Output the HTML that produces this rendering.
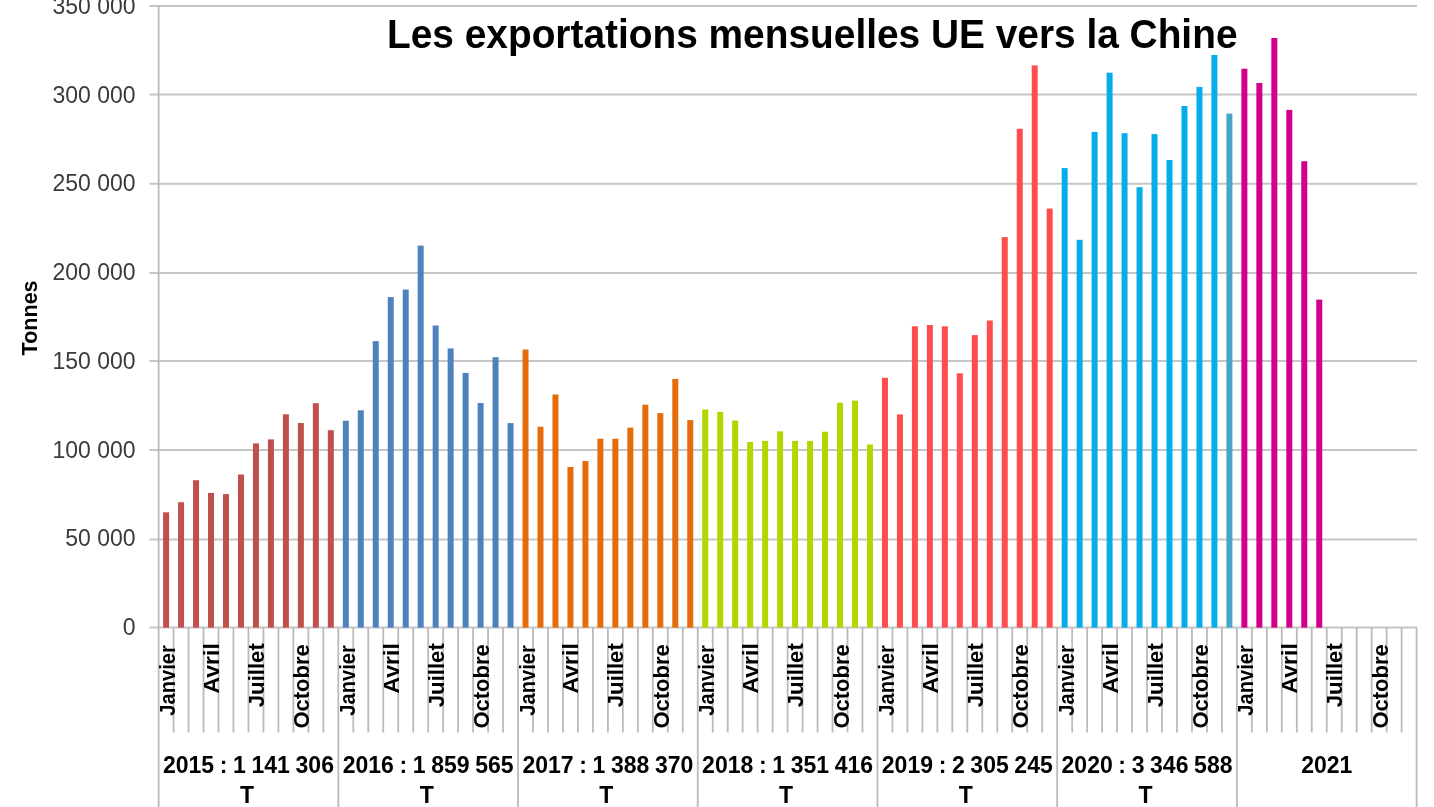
<!DOCTYPE html>
<html><head><meta charset="utf-8"><style>
html,body{margin:0;padding:0;background:#fff;width:1434px;height:807px;overflow:hidden;position:relative;font-family:"Liberation Sans",sans-serif;}
</style></head><body>
<svg width="1434" height="807" viewBox="0 0 1434 807" style="position:absolute;left:0;top:0;filter:blur(0.4px)">
<line x1="149.5" y1="627.60" x2="1417" y2="627.60" stroke="#C6C6C6" stroke-width="2"/>
<line x1="149.5" y1="539.60" x2="1417" y2="539.60" stroke="#C6C6C6" stroke-width="2"/>
<line x1="149.5" y1="450.00" x2="1417" y2="450.00" stroke="#C6C6C6" stroke-width="2"/>
<line x1="149.5" y1="361.00" x2="1417" y2="361.00" stroke="#C6C6C6" stroke-width="2"/>
<line x1="149.5" y1="273.00" x2="1417" y2="273.00" stroke="#C6C6C6" stroke-width="2"/>
<line x1="149.5" y1="183.70" x2="1417" y2="183.70" stroke="#C6C6C6" stroke-width="2"/>
<line x1="149.5" y1="94.50" x2="1417" y2="94.50" stroke="#C6C6C6" stroke-width="2"/>
<line x1="149.5" y1="6.00" x2="1417" y2="6.00" stroke="#C6C6C6" stroke-width="2"/>
<line x1="158.6" y1="5" x2="158.6" y2="807" stroke="#BABABA" stroke-width="1.8"/>
<line x1="173.58" y1="627.6" x2="173.58" y2="732.5" stroke="#BABABA" stroke-width="1.8"/>
<line x1="188.55" y1="627.6" x2="188.55" y2="732.5" stroke="#BABABA" stroke-width="1.8"/>
<line x1="203.53" y1="627.6" x2="203.53" y2="732.5" stroke="#BABABA" stroke-width="1.8"/>
<line x1="218.50" y1="627.6" x2="218.50" y2="732.5" stroke="#BABABA" stroke-width="1.8"/>
<line x1="233.48" y1="627.6" x2="233.48" y2="732.5" stroke="#BABABA" stroke-width="1.8"/>
<line x1="248.46" y1="627.6" x2="248.46" y2="732.5" stroke="#BABABA" stroke-width="1.8"/>
<line x1="263.43" y1="627.6" x2="263.43" y2="732.5" stroke="#BABABA" stroke-width="1.8"/>
<line x1="278.41" y1="627.6" x2="278.41" y2="732.5" stroke="#BABABA" stroke-width="1.8"/>
<line x1="293.39" y1="627.6" x2="293.39" y2="732.5" stroke="#BABABA" stroke-width="1.8"/>
<line x1="308.36" y1="627.6" x2="308.36" y2="732.5" stroke="#BABABA" stroke-width="1.8"/>
<line x1="323.34" y1="627.6" x2="323.34" y2="732.5" stroke="#BABABA" stroke-width="1.8"/>
<line x1="338.31" y1="627.6" x2="338.31" y2="807" stroke="#BABABA" stroke-width="1.8"/>
<line x1="353.29" y1="627.6" x2="353.29" y2="732.5" stroke="#BABABA" stroke-width="1.8"/>
<line x1="368.27" y1="627.6" x2="368.27" y2="732.5" stroke="#BABABA" stroke-width="1.8"/>
<line x1="383.24" y1="627.6" x2="383.24" y2="732.5" stroke="#BABABA" stroke-width="1.8"/>
<line x1="398.22" y1="627.6" x2="398.22" y2="732.5" stroke="#BABABA" stroke-width="1.8"/>
<line x1="413.20" y1="627.6" x2="413.20" y2="732.5" stroke="#BABABA" stroke-width="1.8"/>
<line x1="428.17" y1="627.6" x2="428.17" y2="732.5" stroke="#BABABA" stroke-width="1.8"/>
<line x1="443.15" y1="627.6" x2="443.15" y2="732.5" stroke="#BABABA" stroke-width="1.8"/>
<line x1="458.12" y1="627.6" x2="458.12" y2="732.5" stroke="#BABABA" stroke-width="1.8"/>
<line x1="473.10" y1="627.6" x2="473.10" y2="732.5" stroke="#BABABA" stroke-width="1.8"/>
<line x1="488.08" y1="627.6" x2="488.08" y2="732.5" stroke="#BABABA" stroke-width="1.8"/>
<line x1="503.05" y1="627.6" x2="503.05" y2="732.5" stroke="#BABABA" stroke-width="1.8"/>
<line x1="518.03" y1="627.6" x2="518.03" y2="807" stroke="#BABABA" stroke-width="1.8"/>
<line x1="533.00" y1="627.6" x2="533.00" y2="732.5" stroke="#BABABA" stroke-width="1.8"/>
<line x1="547.98" y1="627.6" x2="547.98" y2="732.5" stroke="#BABABA" stroke-width="1.8"/>
<line x1="562.96" y1="627.6" x2="562.96" y2="732.5" stroke="#BABABA" stroke-width="1.8"/>
<line x1="577.93" y1="627.6" x2="577.93" y2="732.5" stroke="#BABABA" stroke-width="1.8"/>
<line x1="592.91" y1="627.6" x2="592.91" y2="732.5" stroke="#BABABA" stroke-width="1.8"/>
<line x1="607.89" y1="627.6" x2="607.89" y2="732.5" stroke="#BABABA" stroke-width="1.8"/>
<line x1="622.86" y1="627.6" x2="622.86" y2="732.5" stroke="#BABABA" stroke-width="1.8"/>
<line x1="637.84" y1="627.6" x2="637.84" y2="732.5" stroke="#BABABA" stroke-width="1.8"/>
<line x1="652.81" y1="627.6" x2="652.81" y2="732.5" stroke="#BABABA" stroke-width="1.8"/>
<line x1="667.79" y1="627.6" x2="667.79" y2="732.5" stroke="#BABABA" stroke-width="1.8"/>
<line x1="682.77" y1="627.6" x2="682.77" y2="732.5" stroke="#BABABA" stroke-width="1.8"/>
<line x1="697.74" y1="627.6" x2="697.74" y2="807" stroke="#BABABA" stroke-width="1.8"/>
<line x1="712.72" y1="627.6" x2="712.72" y2="732.5" stroke="#BABABA" stroke-width="1.8"/>
<line x1="727.70" y1="627.6" x2="727.70" y2="732.5" stroke="#BABABA" stroke-width="1.8"/>
<line x1="742.67" y1="627.6" x2="742.67" y2="732.5" stroke="#BABABA" stroke-width="1.8"/>
<line x1="757.65" y1="627.6" x2="757.65" y2="732.5" stroke="#BABABA" stroke-width="1.8"/>
<line x1="772.62" y1="627.6" x2="772.62" y2="732.5" stroke="#BABABA" stroke-width="1.8"/>
<line x1="787.60" y1="627.6" x2="787.60" y2="732.5" stroke="#BABABA" stroke-width="1.8"/>
<line x1="802.58" y1="627.6" x2="802.58" y2="732.5" stroke="#BABABA" stroke-width="1.8"/>
<line x1="817.55" y1="627.6" x2="817.55" y2="732.5" stroke="#BABABA" stroke-width="1.8"/>
<line x1="832.53" y1="627.6" x2="832.53" y2="732.5" stroke="#BABABA" stroke-width="1.8"/>
<line x1="847.50" y1="627.6" x2="847.50" y2="732.5" stroke="#BABABA" stroke-width="1.8"/>
<line x1="862.48" y1="627.6" x2="862.48" y2="732.5" stroke="#BABABA" stroke-width="1.8"/>
<line x1="877.46" y1="627.6" x2="877.46" y2="807" stroke="#BABABA" stroke-width="1.8"/>
<line x1="892.43" y1="627.6" x2="892.43" y2="732.5" stroke="#BABABA" stroke-width="1.8"/>
<line x1="907.41" y1="627.6" x2="907.41" y2="732.5" stroke="#BABABA" stroke-width="1.8"/>
<line x1="922.39" y1="627.6" x2="922.39" y2="732.5" stroke="#BABABA" stroke-width="1.8"/>
<line x1="937.36" y1="627.6" x2="937.36" y2="732.5" stroke="#BABABA" stroke-width="1.8"/>
<line x1="952.34" y1="627.6" x2="952.34" y2="732.5" stroke="#BABABA" stroke-width="1.8"/>
<line x1="967.31" y1="627.6" x2="967.31" y2="732.5" stroke="#BABABA" stroke-width="1.8"/>
<line x1="982.29" y1="627.6" x2="982.29" y2="732.5" stroke="#BABABA" stroke-width="1.8"/>
<line x1="997.27" y1="627.6" x2="997.27" y2="732.5" stroke="#BABABA" stroke-width="1.8"/>
<line x1="1012.24" y1="627.6" x2="1012.24" y2="732.5" stroke="#BABABA" stroke-width="1.8"/>
<line x1="1027.22" y1="627.6" x2="1027.22" y2="732.5" stroke="#BABABA" stroke-width="1.8"/>
<line x1="1042.20" y1="627.6" x2="1042.20" y2="732.5" stroke="#BABABA" stroke-width="1.8"/>
<line x1="1057.17" y1="627.6" x2="1057.17" y2="807" stroke="#BABABA" stroke-width="1.8"/>
<line x1="1072.15" y1="627.6" x2="1072.15" y2="732.5" stroke="#BABABA" stroke-width="1.8"/>
<line x1="1087.12" y1="627.6" x2="1087.12" y2="732.5" stroke="#BABABA" stroke-width="1.8"/>
<line x1="1102.10" y1="627.6" x2="1102.10" y2="732.5" stroke="#BABABA" stroke-width="1.8"/>
<line x1="1117.08" y1="627.6" x2="1117.08" y2="732.5" stroke="#BABABA" stroke-width="1.8"/>
<line x1="1132.05" y1="627.6" x2="1132.05" y2="732.5" stroke="#BABABA" stroke-width="1.8"/>
<line x1="1147.03" y1="627.6" x2="1147.03" y2="732.5" stroke="#BABABA" stroke-width="1.8"/>
<line x1="1162.00" y1="627.6" x2="1162.00" y2="732.5" stroke="#BABABA" stroke-width="1.8"/>
<line x1="1176.98" y1="627.6" x2="1176.98" y2="732.5" stroke="#BABABA" stroke-width="1.8"/>
<line x1="1191.96" y1="627.6" x2="1191.96" y2="732.5" stroke="#BABABA" stroke-width="1.8"/>
<line x1="1206.93" y1="627.6" x2="1206.93" y2="732.5" stroke="#BABABA" stroke-width="1.8"/>
<line x1="1221.91" y1="627.6" x2="1221.91" y2="732.5" stroke="#BABABA" stroke-width="1.8"/>
<line x1="1236.89" y1="627.6" x2="1236.89" y2="807" stroke="#BABABA" stroke-width="1.8"/>
<line x1="1251.86" y1="627.6" x2="1251.86" y2="732.5" stroke="#BABABA" stroke-width="1.8"/>
<line x1="1266.84" y1="627.6" x2="1266.84" y2="732.5" stroke="#BABABA" stroke-width="1.8"/>
<line x1="1281.81" y1="627.6" x2="1281.81" y2="732.5" stroke="#BABABA" stroke-width="1.8"/>
<line x1="1296.79" y1="627.6" x2="1296.79" y2="732.5" stroke="#BABABA" stroke-width="1.8"/>
<line x1="1311.77" y1="627.6" x2="1311.77" y2="732.5" stroke="#BABABA" stroke-width="1.8"/>
<line x1="1326.74" y1="627.6" x2="1326.74" y2="732.5" stroke="#BABABA" stroke-width="1.8"/>
<line x1="1341.72" y1="627.6" x2="1341.72" y2="732.5" stroke="#BABABA" stroke-width="1.8"/>
<line x1="1356.70" y1="627.6" x2="1356.70" y2="732.5" stroke="#BABABA" stroke-width="1.8"/>
<line x1="1371.67" y1="627.6" x2="1371.67" y2="732.5" stroke="#BABABA" stroke-width="1.8"/>
<line x1="1386.65" y1="627.6" x2="1386.65" y2="732.5" stroke="#BABABA" stroke-width="1.8"/>
<line x1="1401.62" y1="627.6" x2="1401.62" y2="732.5" stroke="#BABABA" stroke-width="1.8"/>
<line x1="1416.60" y1="627.6" x2="1416.60" y2="807" stroke="#BABABA" stroke-width="1.8"/>
<rect x="163.09" y="512.30" width="6.0" height="115.30" fill="#C0504D"/>
<rect x="178.06" y="502.20" width="6.0" height="125.40" fill="#C0504D"/>
<rect x="193.04" y="480.20" width="6.0" height="147.40" fill="#C0504D"/>
<rect x="208.02" y="492.90" width="6.0" height="134.70" fill="#C0504D"/>
<rect x="222.99" y="494.10" width="6.0" height="133.50" fill="#C0504D"/>
<rect x="237.97" y="474.50" width="6.0" height="153.10" fill="#C0504D"/>
<rect x="252.95" y="443.40" width="6.0" height="184.20" fill="#C0504D"/>
<rect x="267.92" y="439.40" width="6.0" height="188.20" fill="#C0504D"/>
<rect x="282.90" y="414.30" width="6.0" height="213.30" fill="#C0504D"/>
<rect x="297.87" y="423.00" width="6.0" height="204.60" fill="#C0504D"/>
<rect x="312.85" y="403.20" width="6.0" height="224.40" fill="#C0504D"/>
<rect x="327.83" y="430.20" width="6.0" height="197.40" fill="#C0504D"/>
<rect x="342.80" y="420.70" width="6.0" height="206.90" fill="#4F81BD"/>
<rect x="357.78" y="410.30" width="6.0" height="217.30" fill="#4F81BD"/>
<rect x="372.75" y="341.10" width="6.0" height="286.50" fill="#4F81BD"/>
<rect x="387.73" y="297.10" width="6.0" height="330.50" fill="#4F81BD"/>
<rect x="402.71" y="289.60" width="6.0" height="338.00" fill="#4F81BD"/>
<rect x="417.68" y="245.60" width="6.0" height="382.00" fill="#4F81BD"/>
<rect x="432.66" y="325.50" width="6.0" height="302.10" fill="#4F81BD"/>
<rect x="447.64" y="348.40" width="6.0" height="279.20" fill="#4F81BD"/>
<rect x="462.61" y="372.90" width="6.0" height="254.70" fill="#4F81BD"/>
<rect x="477.59" y="403.00" width="6.0" height="224.60" fill="#4F81BD"/>
<rect x="492.56" y="357.20" width="6.0" height="270.40" fill="#4F81BD"/>
<rect x="507.54" y="423.10" width="6.0" height="204.50" fill="#4F81BD"/>
<rect x="522.52" y="349.50" width="6.0" height="278.10" fill="#E46C0A"/>
<rect x="537.49" y="426.70" width="6.0" height="200.90" fill="#E46C0A"/>
<rect x="552.47" y="394.50" width="6.0" height="233.10" fill="#E46C0A"/>
<rect x="567.45" y="467.00" width="6.0" height="160.60" fill="#E46C0A"/>
<rect x="582.42" y="461.00" width="6.0" height="166.60" fill="#E46C0A"/>
<rect x="597.40" y="438.70" width="6.0" height="188.90" fill="#E46C0A"/>
<rect x="612.37" y="438.70" width="6.0" height="188.90" fill="#E46C0A"/>
<rect x="627.35" y="427.60" width="6.0" height="200.00" fill="#E46C0A"/>
<rect x="642.33" y="404.70" width="6.0" height="222.90" fill="#E46C0A"/>
<rect x="657.30" y="413.10" width="6.0" height="214.50" fill="#E46C0A"/>
<rect x="672.28" y="378.90" width="6.0" height="248.70" fill="#E46C0A"/>
<rect x="687.25" y="420.10" width="6.0" height="207.50" fill="#E46C0A"/>
<rect x="702.23" y="409.50" width="6.0" height="218.10" fill="#B0D700"/>
<rect x="717.21" y="411.80" width="6.0" height="215.80" fill="#B0D700"/>
<rect x="732.18" y="420.50" width="6.0" height="207.10" fill="#B0D700"/>
<rect x="747.16" y="442.00" width="6.0" height="185.60" fill="#B0D700"/>
<rect x="762.14" y="440.90" width="6.0" height="186.70" fill="#B0D700"/>
<rect x="777.11" y="431.30" width="6.0" height="196.30" fill="#B0D700"/>
<rect x="792.09" y="440.90" width="6.0" height="186.70" fill="#B0D700"/>
<rect x="807.06" y="440.90" width="6.0" height="186.70" fill="#B0D700"/>
<rect x="822.04" y="431.70" width="6.0" height="195.90" fill="#B0D700"/>
<rect x="837.02" y="402.80" width="6.0" height="224.80" fill="#B0D700"/>
<rect x="851.99" y="400.60" width="6.0" height="227.00" fill="#B0D700"/>
<rect x="866.97" y="444.50" width="6.0" height="183.10" fill="#B0D700"/>
<rect x="881.95" y="377.80" width="6.0" height="249.80" fill="#FF4D4F"/>
<rect x="896.92" y="414.40" width="6.0" height="213.20" fill="#FF4D4F"/>
<rect x="911.90" y="326.30" width="6.0" height="301.30" fill="#FF4D4F"/>
<rect x="926.87" y="325.00" width="6.0" height="302.60" fill="#FF4D4F"/>
<rect x="941.85" y="326.30" width="6.0" height="301.30" fill="#FF4D4F"/>
<rect x="956.83" y="373.30" width="6.0" height="254.30" fill="#FF4D4F"/>
<rect x="971.80" y="335.10" width="6.0" height="292.50" fill="#FF4D4F"/>
<rect x="986.78" y="320.50" width="6.0" height="307.10" fill="#FF4D4F"/>
<rect x="1001.75" y="237.10" width="6.0" height="390.50" fill="#FF4D4F"/>
<rect x="1016.73" y="128.80" width="6.0" height="498.80" fill="#FF4D4F"/>
<rect x="1031.71" y="65.40" width="6.0" height="562.20" fill="#FF4D4F"/>
<rect x="1046.68" y="208.60" width="6.0" height="419.00" fill="#FF4D4F"/>
<rect x="1061.66" y="168.10" width="6.0" height="459.50" fill="#05AEEA"/>
<rect x="1076.64" y="239.80" width="6.0" height="387.80" fill="#05AEEA"/>
<rect x="1091.61" y="131.90" width="6.0" height="495.70" fill="#05AEEA"/>
<rect x="1106.59" y="72.70" width="6.0" height="554.90" fill="#05AEEA"/>
<rect x="1121.56" y="133.20" width="6.0" height="494.40" fill="#05AEEA"/>
<rect x="1136.54" y="187.20" width="6.0" height="440.40" fill="#05AEEA"/>
<rect x="1151.52" y="134.10" width="6.0" height="493.50" fill="#05AEEA"/>
<rect x="1166.49" y="160.00" width="6.0" height="467.60" fill="#05AEEA"/>
<rect x="1181.47" y="106.00" width="6.0" height="521.60" fill="#05AEEA"/>
<rect x="1196.45" y="86.90" width="6.0" height="540.70" fill="#05AEEA"/>
<rect x="1211.42" y="55.00" width="6.0" height="572.60" fill="#05AEEA"/>
<rect x="1226.40" y="113.60" width="6.0" height="514.00" fill="#4AA6C8"/>
<rect x="1241.37" y="68.70" width="6.0" height="558.90" fill="#D0008C"/>
<rect x="1256.35" y="83.00" width="6.0" height="544.60" fill="#D0008C"/>
<rect x="1271.33" y="38.00" width="6.0" height="589.60" fill="#D0008C"/>
<rect x="1286.30" y="109.90" width="6.0" height="517.70" fill="#D0008C"/>
<rect x="1301.28" y="161.20" width="6.0" height="466.40" fill="#D0008C"/>
<rect x="1316.25" y="299.60" width="6.0" height="328.00" fill="#D0008C"/>
<text x="135.6" y="635.25" text-anchor="end" font-family="Liberation Sans" font-size="23" fill="#3A3A3A">0</text>
<text x="135.6" y="546.48" text-anchor="end" font-family="Liberation Sans" font-size="23" fill="#3A3A3A">50 000</text>
<text x="135.6" y="457.71" text-anchor="end" font-family="Liberation Sans" font-size="23" fill="#3A3A3A">100 000</text>
<text x="135.6" y="368.94" text-anchor="end" font-family="Liberation Sans" font-size="23" fill="#3A3A3A">150 000</text>
<text x="135.6" y="280.17" text-anchor="end" font-family="Liberation Sans" font-size="23" fill="#3A3A3A">200 000</text>
<text x="135.6" y="191.40" text-anchor="end" font-family="Liberation Sans" font-size="23" fill="#3A3A3A">250 000</text>
<text x="135.6" y="102.63" text-anchor="end" font-family="Liberation Sans" font-size="23" fill="#3A3A3A">300 000</text>
<text x="135.6" y="13.86" text-anchor="end" font-family="Liberation Sans" font-size="23" fill="#3A3A3A">350 000</text>
<text x="387" y="48.1" font-family="Liberation Sans" font-weight="bold" font-size="40.8" fill="#000" textLength="850.5" lengthAdjust="spacingAndGlyphs">Les exportations mensuelles UE vers la Chine</text>
<text transform="translate(36.5,355.4) rotate(-90)" font-family="Liberation Sans" font-weight="bold" font-size="22" fill="#000" textLength="75" lengthAdjust="spacingAndGlyphs">Tonnes</text>
<text transform="translate(175.09,645.20) rotate(-90)" text-anchor="end" font-family="Liberation Sans" font-weight="bold" font-size="22.5" fill="#000" textLength="70.5" lengthAdjust="spacingAndGlyphs">Janvier</text>
<text transform="translate(219.02,643.20) rotate(-90)" text-anchor="end" font-family="Liberation Sans" font-weight="bold" font-size="22.5" fill="#000" textLength="50.2" lengthAdjust="spacingAndGlyphs">Avril</text>
<text transform="translate(263.95,643.20) rotate(-90)" text-anchor="end" font-family="Liberation Sans" font-weight="bold" font-size="22.5" fill="#000" textLength="64.0" lengthAdjust="spacingAndGlyphs">Juillet</text>
<text transform="translate(309.37,644.20) rotate(-90)" text-anchor="end" font-family="Liberation Sans" font-weight="bold" font-size="22.5" fill="#000" textLength="84.4" lengthAdjust="spacingAndGlyphs">Octobre</text>
<text transform="translate(354.80,645.20) rotate(-90)" text-anchor="end" font-family="Liberation Sans" font-weight="bold" font-size="22.5" fill="#000" textLength="70.5" lengthAdjust="spacingAndGlyphs">Janvier</text>
<text transform="translate(398.73,643.20) rotate(-90)" text-anchor="end" font-family="Liberation Sans" font-weight="bold" font-size="22.5" fill="#000" textLength="50.2" lengthAdjust="spacingAndGlyphs">Avril</text>
<text transform="translate(443.66,643.20) rotate(-90)" text-anchor="end" font-family="Liberation Sans" font-weight="bold" font-size="22.5" fill="#000" textLength="64.0" lengthAdjust="spacingAndGlyphs">Juillet</text>
<text transform="translate(489.09,644.20) rotate(-90)" text-anchor="end" font-family="Liberation Sans" font-weight="bold" font-size="22.5" fill="#000" textLength="84.4" lengthAdjust="spacingAndGlyphs">Octobre</text>
<text transform="translate(534.52,645.20) rotate(-90)" text-anchor="end" font-family="Liberation Sans" font-weight="bold" font-size="22.5" fill="#000" textLength="70.5" lengthAdjust="spacingAndGlyphs">Janvier</text>
<text transform="translate(578.45,643.20) rotate(-90)" text-anchor="end" font-family="Liberation Sans" font-weight="bold" font-size="22.5" fill="#000" textLength="50.2" lengthAdjust="spacingAndGlyphs">Avril</text>
<text transform="translate(623.37,643.20) rotate(-90)" text-anchor="end" font-family="Liberation Sans" font-weight="bold" font-size="22.5" fill="#000" textLength="64.0" lengthAdjust="spacingAndGlyphs">Juillet</text>
<text transform="translate(668.80,644.20) rotate(-90)" text-anchor="end" font-family="Liberation Sans" font-weight="bold" font-size="22.5" fill="#000" textLength="84.4" lengthAdjust="spacingAndGlyphs">Octobre</text>
<text transform="translate(714.23,645.20) rotate(-90)" text-anchor="end" font-family="Liberation Sans" font-weight="bold" font-size="22.5" fill="#000" textLength="70.5" lengthAdjust="spacingAndGlyphs">Janvier</text>
<text transform="translate(758.16,643.20) rotate(-90)" text-anchor="end" font-family="Liberation Sans" font-weight="bold" font-size="22.5" fill="#000" textLength="50.2" lengthAdjust="spacingAndGlyphs">Avril</text>
<text transform="translate(803.09,643.20) rotate(-90)" text-anchor="end" font-family="Liberation Sans" font-weight="bold" font-size="22.5" fill="#000" textLength="64.0" lengthAdjust="spacingAndGlyphs">Juillet</text>
<text transform="translate(848.52,644.20) rotate(-90)" text-anchor="end" font-family="Liberation Sans" font-weight="bold" font-size="22.5" fill="#000" textLength="84.4" lengthAdjust="spacingAndGlyphs">Octobre</text>
<text transform="translate(893.95,645.20) rotate(-90)" text-anchor="end" font-family="Liberation Sans" font-weight="bold" font-size="22.5" fill="#000" textLength="70.5" lengthAdjust="spacingAndGlyphs">Janvier</text>
<text transform="translate(937.87,643.20) rotate(-90)" text-anchor="end" font-family="Liberation Sans" font-weight="bold" font-size="22.5" fill="#000" textLength="50.2" lengthAdjust="spacingAndGlyphs">Avril</text>
<text transform="translate(982.80,643.20) rotate(-90)" text-anchor="end" font-family="Liberation Sans" font-weight="bold" font-size="22.5" fill="#000" textLength="64.0" lengthAdjust="spacingAndGlyphs">Juillet</text>
<text transform="translate(1028.23,644.20) rotate(-90)" text-anchor="end" font-family="Liberation Sans" font-weight="bold" font-size="22.5" fill="#000" textLength="84.4" lengthAdjust="spacingAndGlyphs">Octobre</text>
<text transform="translate(1073.66,645.20) rotate(-90)" text-anchor="end" font-family="Liberation Sans" font-weight="bold" font-size="22.5" fill="#000" textLength="70.5" lengthAdjust="spacingAndGlyphs">Janvier</text>
<text transform="translate(1117.59,643.20) rotate(-90)" text-anchor="end" font-family="Liberation Sans" font-weight="bold" font-size="22.5" fill="#000" textLength="50.2" lengthAdjust="spacingAndGlyphs">Avril</text>
<text transform="translate(1162.52,643.20) rotate(-90)" text-anchor="end" font-family="Liberation Sans" font-weight="bold" font-size="22.5" fill="#000" textLength="64.0" lengthAdjust="spacingAndGlyphs">Juillet</text>
<text transform="translate(1207.95,644.20) rotate(-90)" text-anchor="end" font-family="Liberation Sans" font-weight="bold" font-size="22.5" fill="#000" textLength="84.4" lengthAdjust="spacingAndGlyphs">Octobre</text>
<text transform="translate(1253.37,645.20) rotate(-90)" text-anchor="end" font-family="Liberation Sans" font-weight="bold" font-size="22.5" fill="#000" textLength="70.5" lengthAdjust="spacingAndGlyphs">Janvier</text>
<text transform="translate(1297.30,643.20) rotate(-90)" text-anchor="end" font-family="Liberation Sans" font-weight="bold" font-size="22.5" fill="#000" textLength="50.2" lengthAdjust="spacingAndGlyphs">Avril</text>
<text transform="translate(1342.23,643.20) rotate(-90)" text-anchor="end" font-family="Liberation Sans" font-weight="bold" font-size="22.5" fill="#000" textLength="64.0" lengthAdjust="spacingAndGlyphs">Juillet</text>
<text transform="translate(1387.66,644.20) rotate(-90)" text-anchor="end" font-family="Liberation Sans" font-weight="bold" font-size="22.5" fill="#000" textLength="84.4" lengthAdjust="spacingAndGlyphs">Octobre</text>
<text x="248.46" y="772.9" text-anchor="middle" font-family="Liberation Sans" font-weight="bold" font-size="23.5" word-spacing="-0.8" fill="#000" textLength="171" lengthAdjust="spacingAndGlyphs">2015 : 1 141 306</text>
<text x="246.96" y="802.7" text-anchor="middle" font-family="Liberation Sans" font-weight="bold" font-size="23" fill="#000">T</text>
<text x="428.17" y="772.9" text-anchor="middle" font-family="Liberation Sans" font-weight="bold" font-size="23.5" word-spacing="-0.8" fill="#000" textLength="171" lengthAdjust="spacingAndGlyphs">2016 : 1 859 565</text>
<text x="426.67" y="802.7" text-anchor="middle" font-family="Liberation Sans" font-weight="bold" font-size="23" fill="#000">T</text>
<text x="607.89" y="772.9" text-anchor="middle" font-family="Liberation Sans" font-weight="bold" font-size="23.5" word-spacing="-0.8" fill="#000" textLength="171" lengthAdjust="spacingAndGlyphs">2017 : 1 388 370</text>
<text x="606.39" y="802.7" text-anchor="middle" font-family="Liberation Sans" font-weight="bold" font-size="23" fill="#000">T</text>
<text x="787.60" y="772.9" text-anchor="middle" font-family="Liberation Sans" font-weight="bold" font-size="23.5" word-spacing="-0.8" fill="#000" textLength="171" lengthAdjust="spacingAndGlyphs">2018 : 1 351 416</text>
<text x="786.10" y="802.7" text-anchor="middle" font-family="Liberation Sans" font-weight="bold" font-size="23" fill="#000">T</text>
<text x="967.31" y="772.9" text-anchor="middle" font-family="Liberation Sans" font-weight="bold" font-size="23.5" word-spacing="-0.8" fill="#000" textLength="171" lengthAdjust="spacingAndGlyphs">2019 : 2 305 245</text>
<text x="965.81" y="802.7" text-anchor="middle" font-family="Liberation Sans" font-weight="bold" font-size="23" fill="#000">T</text>
<text x="1147.03" y="772.9" text-anchor="middle" font-family="Liberation Sans" font-weight="bold" font-size="23.5" word-spacing="-0.8" fill="#000" textLength="171" lengthAdjust="spacingAndGlyphs">2020 : 3 346 588</text>
<text x="1145.53" y="802.7" text-anchor="middle" font-family="Liberation Sans" font-weight="bold" font-size="23" fill="#000">T</text>
<text x="1326.74" y="772.9" text-anchor="middle" font-family="Liberation Sans" font-weight="bold" font-size="23" fill="#000">2021</text>
</svg>
</body></html>
